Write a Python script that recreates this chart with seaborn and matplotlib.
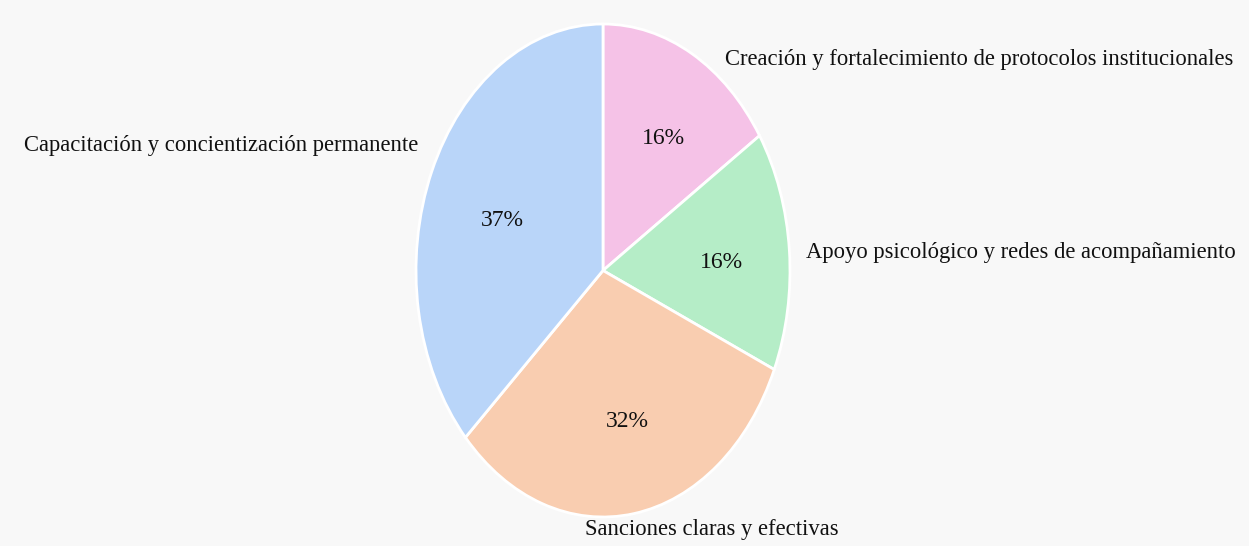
import matplotlib
matplotlib.use('Agg')
import matplotlib.pyplot as plt
import seaborn as sns

# datos
categorias = ['Creación y fortalecimiento de protocolos institucionales',
              'Apoyo psicológico y redes de acompañamiento',
              'Sanciones claras y efectivas',
              'Capacitación y concientización permanente']
valores = [6, 6, 12, 14]
colores = ['#f5c2e7', '#b5edc7', '#f9cdb0', '#b9d5f9']

sns.set_style('white')
plt.rcParams['font.family'] = ['Liberation Serif', 'DejaVu Serif']

fig = plt.figure(figsize=(12.49, 5.46), dpi=100)
fig.patch.set_facecolor('#f8f8f8')
ax = fig.add_axes([416 / 1249, 29 / 546, 374 / 1249, 493 / 546])
ax.set_facecolor('#f8f8f8')

wedges, textos, pcts = ax.pie(valores, labels=categorias, colors=sns.color_palette(colores),
                              startangle=90, counterclock=False, autopct='%1.0f%%',
                              pctdistance=0.6, labeldistance=1.1,
                              wedgeprops=dict(edgecolor='white', linewidth=2),
                              textprops=dict(fontsize=16.3, color='#111111'))
ax.set_aspect('auto')
ax.set_xlim(-1, 1)
ax.set_ylim(-1, 1)
ax.axis('off')

# ajustar posicion de etiquetas
pos = [(0.652, 0.858, 'left'), (1.086, 0.075, 'left'),
       (-0.096, -1.05, 'left'), (-0.989, 0.509, 'right')]
for t, (x, y, ha) in zip(textos, pos):
    t.set_position((x, y))
    t.set_ha(ha)
    t.set_va('center')
    t.set_clip_on(False)

# porcentajes dentro de cada sector
pos_pct = [(0.326, 0.512), (0.636, 0.011), (0.131, -0.634), (-0.536, 0.181)]
for t, (x, y) in zip(pcts, pos_pct):
    t.set_position((x, y))
    t.set_va('baseline')
    t.set_fontsize(17)

fig.savefig('out.png', dpi=100, facecolor=fig.get_facecolor())
